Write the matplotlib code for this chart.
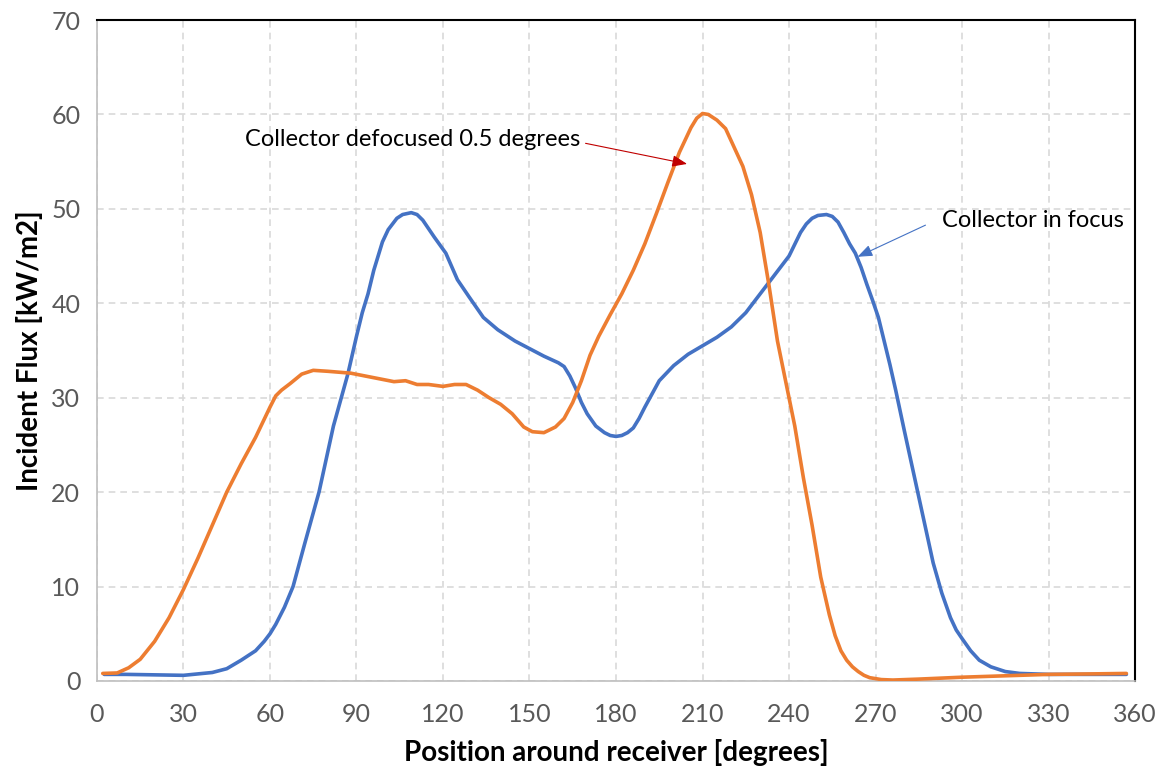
import matplotlib.pyplot as plt
import numpy as np

# in focus (blue)
focus_deg = [2.5, 10, 20, 30, 40, 45, 50, 55, 58, 60, 62, 65, 68, 72, 77, 82, 87, 90, 92, 94, 96,
             99, 101, 104, 106, 109, 111, 113, 117, 121, 125, 129, 134, 139, 145, 150, 155, 160,
             162, 164, 166, 168, 170, 173, 176, 178, 180, 182, 184, 186, 188, 190, 195, 200, 205,
             210, 215, 220, 225, 230, 235, 240, 244, 246, 248, 250, 253, 255, 257, 259, 261, 263,
             265, 267, 269, 271, 273, 275, 277, 280, 285, 290, 293, 296, 298, 300, 303, 306, 310,
             315, 320, 330, 340, 350, 357]
focus_flux = [0.7, 0.7, 0.65, 0.6, 0.9, 1.3, 2.2, 3.2, 4.2, 5.0, 6.0, 7.8, 10.0, 14.5, 20.0,
              27.0, 32.5, 36.5, 39.0, 41.0, 43.5, 46.5, 47.8, 49.0, 49.4, 49.6, 49.4, 48.8, 47.0,
              45.3, 42.5, 40.7, 38.5, 37.2, 36.0, 35.2, 34.4, 33.7, 33.3, 32.3, 31.0, 29.5, 28.3,
              27.0, 26.3, 26.0, 25.9, 26.0, 26.3, 26.8, 27.8, 29.0, 31.8, 33.4, 34.6, 35.5, 36.4,
              37.5, 39.0, 41.0, 43.0, 45.0, 47.5, 48.4, 49.0, 49.3, 49.4, 49.2, 48.6, 47.5, 46.3,
              45.3, 43.8, 42.0, 40.3, 38.5, 36.0, 33.5, 30.8, 26.5, 19.5, 12.5, 9.3, 6.7, 5.4, 4.5,
              3.2, 2.2, 1.5, 1.0, 0.8, 0.7, 0.7, 0.7, 0.7]

# defocused 0.5 deg (orange)
defoc_deg = [2, 7, 11, 15, 20, 25, 30, 35, 40, 45, 50, 55, 60, 62, 64, 67, 71, 75, 80, 88, 93,
             98, 103, 107, 111, 115, 120, 124, 128, 132, 136, 140, 144, 148, 151, 155, 159, 162,
             165, 168, 171, 174, 178, 182, 186, 190, 194, 198, 202, 206, 208, 210, 212, 215, 218,
             221, 224, 227, 230, 233, 236, 239, 242, 245, 248, 251, 254, 256, 258, 260, 262, 264,
             266, 268, 272, 276, 285, 300, 315, 330, 345, 357]
defoc_flux = [0.8, 0.85, 1.4, 2.3, 4.2, 6.7, 9.7, 13.0, 16.5, 20.0, 23.0, 25.8, 29.0, 30.2,
              30.8, 31.5, 32.5, 32.9, 32.8, 32.6, 32.3, 32.0, 31.7, 31.8, 31.4, 31.4, 31.2, 31.4,
              31.4, 30.8, 30.0, 29.3, 28.3, 26.9, 26.4, 26.3, 26.9, 27.8, 29.5, 31.8, 34.5, 36.5,
              38.8, 41.0, 43.5, 46.3, 49.5, 52.8, 56.0, 58.6, 59.6, 60.1, 60.0, 59.4, 58.5, 56.5,
              54.5, 51.5, 47.5, 42.0, 36.0, 31.5, 27.0, 21.5, 16.5, 11.0, 7.0, 4.8, 3.2, 2.2, 1.5,
              1.0, 0.6, 0.35, 0.15, 0.1, 0.2, 0.4, 0.55, 0.7, 0.75, 0.8]

plt.rcParams['font.family'] = ['Lato', 'DejaVu Sans']

fig = plt.figure(figsize=(11.67, 7.70), dpi=100)
ax = fig.add_axes([0.0831, 0.1156, 0.8895, 0.8584])

ax.plot(focus_deg, focus_flux, color='#4472C4', lw=2.6, solid_capstyle='round',
        solid_joinstyle='round', zorder=3)
ax.plot(defoc_deg, defoc_flux, color='#ED7D31', lw=2.6, solid_capstyle='round',
        solid_joinstyle='round', zorder=3)

ax.set_xlim(0, 360)
ax.set_ylim(0, 70)
ax.set_xticks(np.arange(0, 361, 30))
ax.set_yticks(np.arange(0, 71, 10))
ax.grid(True, color='#D9D9D9', lw=1.2, linestyle=(0, (4, 3)), zorder=0)
ax.tick_params(length=0, labelsize=18, labelcolor='#595959')
ax.tick_params(axis='x', pad=16)
ax.tick_params(axis='y', pad=12)

for s in ['left', 'bottom']:
    ax.spines[s].set_color('#BFBFBF')
    ax.spines[s].set_linewidth(1.2)
for s in ['top', 'right']:
    ax.spines[s].set_color('black')
    ax.spines[s].set_linewidth(1.5)

ax.set_xlabel('Position around receiver [degrees]', fontsize=20, fontweight='bold', labelpad=9)
ax.set_ylabel('Incident Flux [kW/m2]', fontsize=20, fontweight='bold', labelpad=6)

ax.annotate('', xy=(205.6, 54.7), xytext=(168.5, 57.0),
            arrowprops=dict(arrowstyle='-|>,head_length=0.9,head_width=0.35', color='#C00000', lw=0.8))
ax.text(51.3, 57.3, 'Collector defocused 0.5 degrees', fontsize=17, va='center', ha='left')

ax.annotate('', xy=(262.9, 44.8), xytext=(288.2, 48.4),
            arrowprops=dict(arrowstyle='-|>,head_length=0.9,head_width=0.35', color='#4472C4', lw=0.8))
ax.text(293, 48.8, 'Collector in focus', fontsize=17, va='center', ha='left')

fig.savefig('out.png', dpi=100)
